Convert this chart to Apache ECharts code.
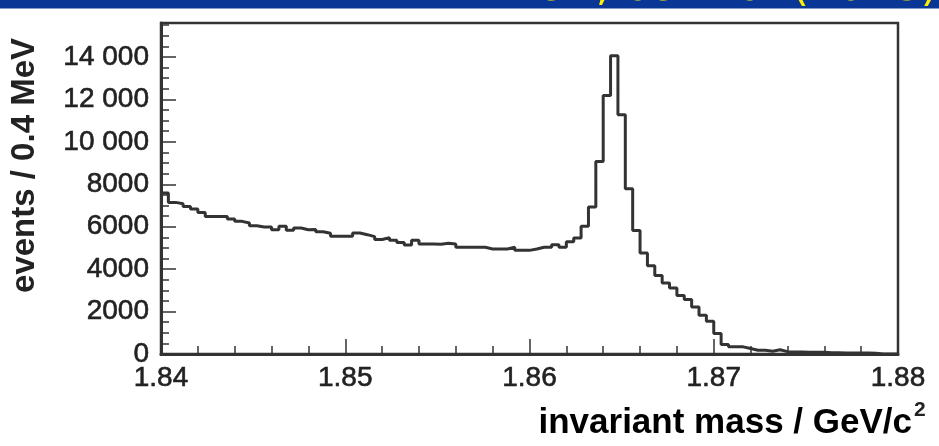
<!DOCTYPE html>
<html>
<head>
<meta charset="utf-8">
<script src="https://cdn.jsdelivr.net/npm/echarts@6/dist/echarts.min.js"></script>
<style>
html,body{margin:0;padding:0;background:#fff;}
#c{width:939px;height:446px;}
</style>
</head>
<body>
<div id="c"></div>
<script>
// Histogram: invariant mass, 100 bins of 0.4 MeV from 1.84 to 1.88 GeV/c^2
const binLow = 1.84;
const binWidth = 0.0004;
const counts = [
  7585, 7145, 7083, 6957, 6831, 6674, 6486, 6486, 6486, 6361,
  6251, 6173, 6047, 5984, 5984, 5859, 6016, 5828, 5938, 5860,
  5870, 5760, 5690, 5545, 5545, 5545, 5702, 5624, 5530, 5400,
  5480, 5357, 5250, 5140, 5357, 5180, 5180, 5170, 5215, 5185,
  5030, 5028, 5028, 5028, 4951, 4951, 4951, 5028, 4885, 4885,
  4951, 5028, 5028, 5153, 5028, 5290, 5467, 6016, 6926, 9074,
  12180, 14062, 11271, 7788, 5820, 4760, 4165, 3694, 3349, 3114,
  2753, 2565, 2220, 1826, 1544, 965, 447, 337, 337, 259,
  180, 180, 130, 200, 110, 100, 100, 80, 80, 80,
  60, 60, 50, 50, 50, 50, 40, 0, 0, 0
];
const xTickLabels = ['1.84', '1.85', '1.86', '1.87', '1.88'];
const yTickLabels = ['0', '2000', '4000', '6000', '8000', '10 000', '12 000', '14 000'];
const xTitle = 'invariant mass / GeV/c';
const yTitle = 'events / 0.4 MeV';
const banner = 'PRD 97, 091101(2018)';

const pts = [];
for (let i = 0; i < counts.length; i++) pts.push([binLow + i * binWidth, counts[i]]);
pts.push([binLow + counts.length * binWidth, counts[counts.length - 1]]);

const chart = echarts.init(document.getElementById('c'), null, {renderer: 'canvas'});
const font = '"Liberation Sans", Arial, Helvetica, sans-serif';
const labelStyle = {fontFamily: font, fontSize: 28, color: '#222', textBorderColor: '#222', textBorderWidth: 0.6};
chart.setOption({
  animation: false,
  backgroundColor: '#ffffff',
  grid: {left: 161, right: 41, top: 23, bottom: 92, show: true, borderColor: '#333', borderWidth: 2.5, backgroundColor: 'transparent'},
  xAxis: {
    type: 'value', min: 1.84, max: 1.88, interval: 0.01,
    axisLine: {show: true, lineStyle: {color: '#333', width: 3}},
    axisTick: {show: true, inside: true, length: 15, lineStyle: {color: '#333', width: 1.5}},
    minorTick: {show: true, splitNumber: 5, length: 8, lineStyle: {color: '#333', width: 1.5}},
    splitLine: {show: false},
    axisLabel: Object.assign({
      margin: 10,
      formatter: function (v) { const k = Math.round((v - 1.84) / 0.01); return xTickLabels[k] || ''; }
    }, labelStyle)
  },
  yAxis: {
    type: 'value', min: 0, max: 15600, interval: 2000,
    axisLine: {show: true, lineStyle: {color: '#333', width: 3}},
    axisTick: {show: true, inside: true, length: 15, lineStyle: {color: '#333', width: 1.5}},
    minorTick: {show: true, splitNumber: 4, length: 8, lineStyle: {color: '#333', width: 1.5}},
    splitLine: {show: false},
    axisLabel: Object.assign({
      margin: 12, showMaxLabel: false,
      formatter: function (v) { const k = Math.round(v / 2000); return (v % 2000 === 0 && yTickLabels[k]) ? yTickLabels[k] : ''; }
    }, labelStyle)
  },
  series: [{
    type: 'line', step: 'end', data: pts, symbol: 'none', silent: true,
    lineStyle: {color: '#333', width: 3}
  }],
  graphic: [
    {type: 'rect', shape: {x: 0, y: 0, width: 939, height: 8.5}, style: {fill: '#0a3796'}, z: 10},
    {type: 'text', x: 938, y: 11, z: 11, style: {text: banner, fill: '#ffee00', font: '44px "DejaVu Sans", sans-serif', textAlign: 'right', textVerticalAlign: 'bottom'}},
    {type: 'text', x: 25, y: 38, rotation: Math.PI / 2, z: 12,
     style: {text: yTitle, fill: '#222', font: 'bold 33px "Liberation Sans", Arial, sans-serif', textAlign: 'right', textVerticalAlign: 'middle'}},
    {type: 'text', x: 912, y: 441, z: 12,
     style: {
       text: '{a|' + xTitle + '}', textAlign: 'right', textVerticalAlign: 'bottom',
       rich: {
         a: {fontFamily: font, fontWeight: 'bold', fontSize: 35, color: '#222'}
       }
     }},
    {type: 'text', x: 914, y: 400, z: 12,
     style: {text: '2', fill: '#222', font: 'bold 21px "Liberation Sans", Arial, sans-serif', textAlign: 'left', textVerticalAlign: 'top'}}
  ]
});
</script>
</body>
</html>
